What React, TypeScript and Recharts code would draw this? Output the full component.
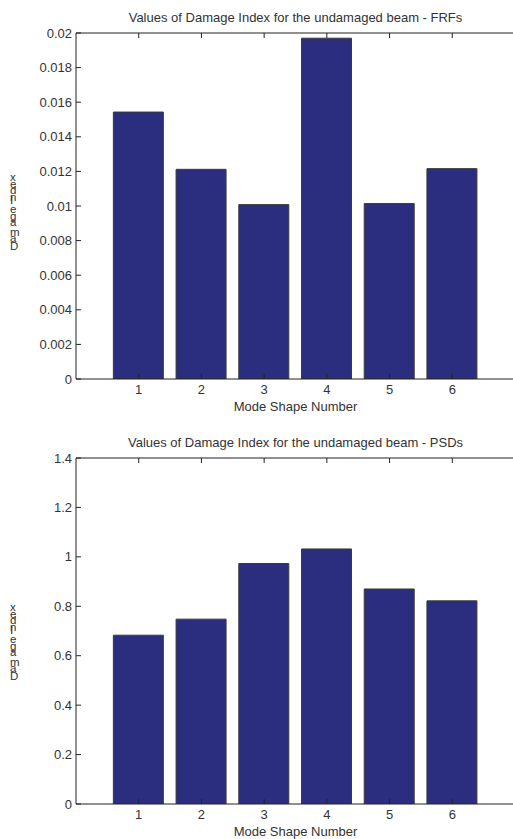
import React from 'react';
import { BarChart, Bar, XAxis, YAxis } from 'recharts';

const modes = [1, 2, 3, 4, 5, 6];
const frfValues = [0.01543, 0.01212, 0.01008, 0.0197, 0.01014, 0.01216];
const psdValues = [0.683, 0.748, 0.973, 1.032, 0.87, 0.822];
const frfTicks = [0, 0.002, 0.004, 0.006, 0.008, 0.01, 0.012, 0.014, 0.016, 0.018, 0.02];
const psdTicks = [0, 0.2, 0.4, 0.6, 0.8, 1, 1.2, 1.4];
const xTicks = [1, 2, 3, 4, 5, 6];
const xDomain = [0, 7];
const topTitle = 'Values of Damage Index for the undamaged beam - FRFs';
const bottomTitle = 'Values of Damage Index for the undamaged beam - PSDs';
const xLabel = 'Mode Shape Number';
const yLabel = 'Damage Index';

const FONT = '"Liberation Sans", Arial, sans-serif';
const AXIS = '#222222';
const TEXT = '#333333';
const BAR = '#2b2e7e';

const fmt = (v: number) => String(parseFloat(v.toFixed(4)));
const blank = () => '';

type PanelProps = {
  values: number[];
  yTicks: number[];
  title: string;
  top: number;
  marginTop: number;
  labelCenterY: number;
};

function Panel({ values, yTicks, title, top, marginTop, labelCenterY }: PanelProps) {
  const data = modes.map((m, i) => ({ mode: m, value: values[i] }));
  const yDomain = [yTicks[0], yTicks[yTicks.length - 1]];
  const height = 425;
  return (
    <div style={{ position: 'absolute', left: 0, top, width: 530, height }}>
      <div
        style={{
          position: 'absolute',
          left: 76,
          width: 439,
          top: marginTop - 23,
          textAlign: 'center',
          fontFamily: FONT,
          fontSize: 13,
          color: TEXT,
          whiteSpace: 'nowrap',
        }}
      >
        {title}
      </div>
      <BarChart
        width={530}
        height={height}
        data={data}
        margin={{ top: marginTop - 1, right: 15, bottom: height - marginTop - 346 - 41, left: 0 }}
        barSize={50}
      >
        <XAxis
          dataKey="mode"
          type="number"
          domain={xDomain}
          ticks={xTicks}
          allowDataOverflow
          height={41}
          tickSize={-5}
          tickMargin={11}
          stroke={AXIS}
          tick={{ fill: TEXT, fontSize: 13, fontFamily: FONT }}
          label={{
            content: (p: any) => {
              const vb = p.viewBox || {};
              return (
                <text
                  x={vb.x + vb.width / 2}
                  y={vb.y + 32}
                  textAnchor="middle"
                  fill={TEXT}
                  fontSize={13}
                  fontFamily={FONT}
                >
                  {xLabel}
                </text>
              );
            },
          }}
        />
        <XAxis
          xAxisId="top"
          orientation="top"
          dataKey="mode"
          type="number"
          domain={xDomain}
          ticks={xTicks}
          allowDataOverflow
          height={1}
          tickSize={-5}
          tickFormatter={blank}
          tick={{ fontSize: 1 }}
          stroke={AXIS}
        />
        <YAxis
          type="number"
          domain={yDomain}
          ticks={yTicks}
          allowDataOverflow
          width={76}
          tickSize={-5}
          tickMargin={9}
          stroke={AXIS}
          tickFormatter={fmt}
          tick={{ fill: TEXT, fontSize: 13, fontFamily: FONT }}
          label={{
            content: () => {
              const x = 10;
              const y = labelCenterY;
              return (
                <text
                  x={x}
                  y={y}
                  transform={`rotate(-90, ${x}, ${y})`}
                  rotate="90"
                  textAnchor="middle"
                  fill={TEXT}
                  fontSize={11.5}
                  fontFamily={FONT}
                >
                  {yLabel}
                </text>
              );
            },
          }}
        />
        <YAxis
          yAxisId="right"
          orientation="right"
          type="number"
          domain={yDomain}
          ticks={yTicks}
          allowDataOverflow
          width={0}
          tickSize={-5}
          tickFormatter={blank}
          tick={{ fontSize: 1 }}
          stroke={AXIS}
        />
        <Bar dataKey="value" fill={BAR} stroke="#3a3a3a" strokeWidth={1} isAnimationActive={false} />
      </BarChart>
    </div>
  );
}

export default function App() {
  return (
    <div
      style={{
        position: 'absolute',
        left: 0,
        top: 0,
        width: 513,
        height: 839,
        overflow: 'hidden',
        background: '#ffffff',
      }}
    >
      <Panel values={frfValues} yTicks={frfTicks} title={topTitle} top={0} marginTop={33} labelCenterY={213} />
      <Panel values={psdValues} yTicks={psdTicks} title={bottomTitle} top={420} marginTop={38} labelCenterY={223} />
    </div>
  );
}
